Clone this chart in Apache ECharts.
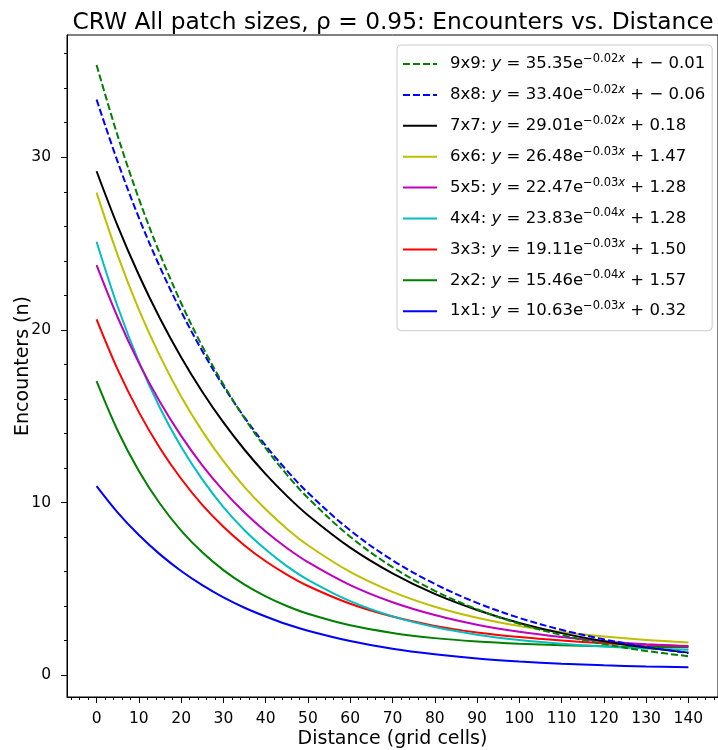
<!DOCTYPE html>
<html>
<head>
<meta charset="utf-8">
<script src="https://cdn.jsdelivr.net/npm/echarts@6/dist/echarts.min.js"></script>
<style>
  html, body { margin: 0; padding: 0; background: #fff; }
  #chart { width: 718px; height: 750px; }
</style>
</head>
<body>
<div id="chart"></div>
<script>
// distance (grid cells) where the curves were read
const distance = [0, 5, 10, 15, 20, 25, 30, 35, 40, 45, 50, 60, 70, 80, 90, 100, 110, 120, 130, 140];

// encounters, one array per patch size
const enc9x9 = [35.34, 31.23, 27.60, 24.39, 21.56, 19.05, 16.84, 14.88, 13.15, 11.62, 10.27, 8.02, 6.26, 4.89, 3.82, 2.98, 2.33, 1.81, 1.41, 1.10];
const enc8x8 = [33.34, 29.73, 26.50, 23.63, 21.07, 18.78, 16.74, 14.93, 13.30, 11.86, 10.57, 8.39, 6.66, 5.29, 4.19, 3.32, 2.63, 2.08, 1.64, 1.29];
const enc7x7 = [29.19, 26.01, 23.18, 20.66, 18.42, 16.42, 14.64, 13.06, 11.65, 10.39, 9.27, 7.39, 5.90, 4.71, 3.78, 3.03, 2.44, 1.97, 1.60, 1.31];
const enc6x6 = [27.95, 24.32, 21.18, 18.48, 16.15, 14.14, 12.40, 10.90, 9.61, 8.49, 7.53, 5.98, 4.83, 3.97, 3.33, 2.85, 2.50, 2.24, 2.04, 1.90];
const enc5x5 = [23.75, 20.72, 18.09, 15.82, 13.86, 12.16, 10.69, 9.42, 8.32, 7.37, 6.55, 5.22, 4.23, 3.49, 2.93, 2.52, 2.21, 1.97, 1.80, 1.67];
const enc4x4 = [25.11, 21.34, 18.16, 15.48, 13.23, 11.34, 9.74, 8.40, 7.28, 6.32, 5.53, 4.29, 3.41, 2.79, 2.35, 2.04, 1.82, 1.66, 1.55, 1.47];
const enc3x3 = [20.61, 17.70, 15.24, 13.15, 11.38, 9.87, 8.60, 7.52, 6.60, 5.83, 5.17, 4.14, 3.40, 2.86, 2.48, 2.21, 2.01, 1.86, 1.76, 1.69];
const enc2x2 = [17.03, 14.16, 11.83, 9.93, 8.38, 7.12, 6.09, 5.25, 4.57, 4.01, 3.56, 2.89, 2.45, 2.15, 1.96, 1.83, 1.74, 1.68, 1.64, 1.62];
const enc1x1 = [10.95, 9.42, 8.12, 7.00, 6.04, 5.22, 4.51, 3.91, 3.40, 2.95, 2.58, 1.98, 1.53, 1.21, 0.97, 0.80, 0.67, 0.58, 0.51, 0.46];

// legend text pieces (fit parameters shown in the legend)
const sizes = ['9x9', '8x8', '7x7', '6x6', '5x5', '4x4', '3x3', '2x2', '1x1'];
const fitA = ['35.35', '33.40', '29.01', '26.48', '22.47', '23.83', '19.11', '15.46', '10.63'];
const fitK = ['\u22120.02', '\u22120.02', '\u22120.02', '\u22120.03', '\u22120.03', '\u22120.04', '\u22120.03', '\u22120.04', '\u22120.03'];
const fitC = ['+ \u2212 0.01', '+ \u2212 0.06', '+ 0.18', '+ 1.47', '+ 1.28', '+ 1.28', '+ 1.50', '+ 1.57', '+ 0.32'];

const xMajor = [0, 10, 20, 30, 40, 50, 60, 70, 80, 90, 100, 110, 120, 130, 140];
const yMajor = [0, 10, 20, 30];

const xMinor = [];
for (let v = -6; v <= 146; v += 2) xMinor.push(v);
const yMinor = [];
for (let v = 0; v <= 36; v += 2) yMinor.push(v);

const FONT = 'DejaVu Sans';

const chart = echarts.init(document.getElementById('chart'), null, { renderer: 'canvas' });

function pairs(ys) {
  return distance.map((d, i) => [d, ys[i]]);
}

function makeLine(name, ys, color, dashed) {
  return {
    name: name,
    type: 'line',
    data: pairs(ys),
    smooth: 0.35,
    symbol: 'none',
    xAxisIndex: 0,
    yAxisIndex: 0,
    lineStyle: { color: color, width: 2, type: dashed ? [7, 3] : 'solid' },
    itemStyle: { color: color },
    z: 3
  };
}

// drawn 1x1 first so the big sizes sit on top
const series = [
  makeLine('1x1', enc1x1, '#0000ff', false),
  makeLine('2x2', enc2x2, '#008000', false),
  makeLine('3x3', enc3x3, '#ff0000', false),
  makeLine('4x4', enc4x4, '#00bfbf', false),
  makeLine('5x5', enc5x5, '#bf00bf', false),
  makeLine('6x6', enc6x6, '#bfbf00', false),
  makeLine('7x7', enc7x7, '#000000', false),
  makeLine('8x8', enc8x8, '#0000ff', true),
  makeLine('9x9', enc9x9, '#008000', true)
];

const option = {
  backgroundColor: '#fff',
  animation: false,
  title: {
    text: 'CRW All patch sizes, \u03c1 = 0.95: Encounters vs. Distance',
    left: 388,
    top: 6,
    textAlign: 'center',
    textStyle: { fontFamily: FONT, fontSize: 23.3, fontWeight: 'normal', color: '#000' }
  },
  grid: {
    left: 67, right: 0, top: 35, bottom: 53,
    outerBoundsMode: 'none',
    containLabel: false,
    show: true, borderColor: '#000', borderWidth: 1
  },
  legend: {
    orient: 'vertical',
    left: 397,
    top: 45,
    data: sizes,
    itemWidth: 34,
    itemHeight: 12,
    itemGap: 11.4,
    padding: [8, 7, 11, 5],
    backgroundColor: 'rgba(255,255,255,0.8)',
    borderColor: '#ccc',
    borderWidth: 1,
    borderRadius: 4,
    itemStyle: { opacity: 0 },
    formatter: function (name) {
      const i = sizes.indexOf(name);
      return '{n|' + name + ': }{i|y}{n| = ' + fitA[i] + 'e}{s|' + fitK[i] + '}{si|x}{n| ' + fitC[i] + '}';
    },
    textStyle: {
      padding: [0, 0, 0, 8],
      rich: {
        n: { fontFamily: FONT, fontSize: 16.5, color: '#000', lineHeight: 22, verticalAlign: 'middle' },
        i: { fontFamily: FONT, fontSize: 16.5, fontStyle: 'italic', color: '#000', lineHeight: 22, verticalAlign: 'middle' },
        s: { fontFamily: FONT, fontSize: 11.5, color: '#000', lineHeight: 11, verticalAlign: 'top' },
        si: { fontFamily: FONT, fontSize: 11.5, fontStyle: 'italic', color: '#000', lineHeight: 11, verticalAlign: 'top' }
      }
    }
  },
  xAxis: [
    {
      type: 'value',
      min: -7,
      max: 147,
      name: 'Distance (grid cells)',
      nameLocation: 'middle',
      nameGap: 33,
      nameMoveOverlap: false,
      nameTextStyle: { fontFamily: FONT, fontSize: 19, color: '#000' },
      axisLine: { show: true, onZero: false, lineStyle: { color: '#000' } },
      axisTick: { show: true, length: 6, customValues: xMajor, lineStyle: { color: '#000' } },
      axisLabel: { customValues: xMajor, margin: 14, fontFamily: FONT, fontSize: 15.5, color: '#000' },
      splitLine: { show: false }
    },
    {
      type: 'value',
      min: -7,
      max: 147,
      position: 'bottom',
      axisLine: { show: false, onZero: false },
      axisTick: { show: true, length: 3, customValues: xMinor, lineStyle: { color: '#000' } },
      axisLabel: { show: false },
      splitLine: { show: false }
    }
  ],
  yAxis: [
    {
      type: 'value',
      min: -1.26,
      max: 37.08,
      name: 'Encounters (n)',
      nameLocation: 'middle',
      nameGap: 34,
      nameMoveOverlap: false,
      nameTextStyle: { fontFamily: FONT, fontSize: 19, color: '#000' },
      axisLine: { show: true, onZero: false, lineStyle: { color: '#000' } },
      axisTick: { show: true, length: 6, customValues: yMajor, lineStyle: { color: '#000' } },
      axisLabel: { customValues: yMajor, margin: 16, fontFamily: FONT, fontSize: 15.5, color: '#000' },
      splitLine: { show: false }
    },
    {
      type: 'value',
      min: -1.26,
      max: 37.08,
      position: 'left',
      axisLine: { show: false, onZero: false },
      axisTick: { show: true, length: 3, customValues: yMinor, lineStyle: { color: '#000' } },
      axisLabel: { show: false },
      splitLine: { show: false }
    }
  ],
  series: series
};

chart.setOption(option);
</script>
</body>
</html>
